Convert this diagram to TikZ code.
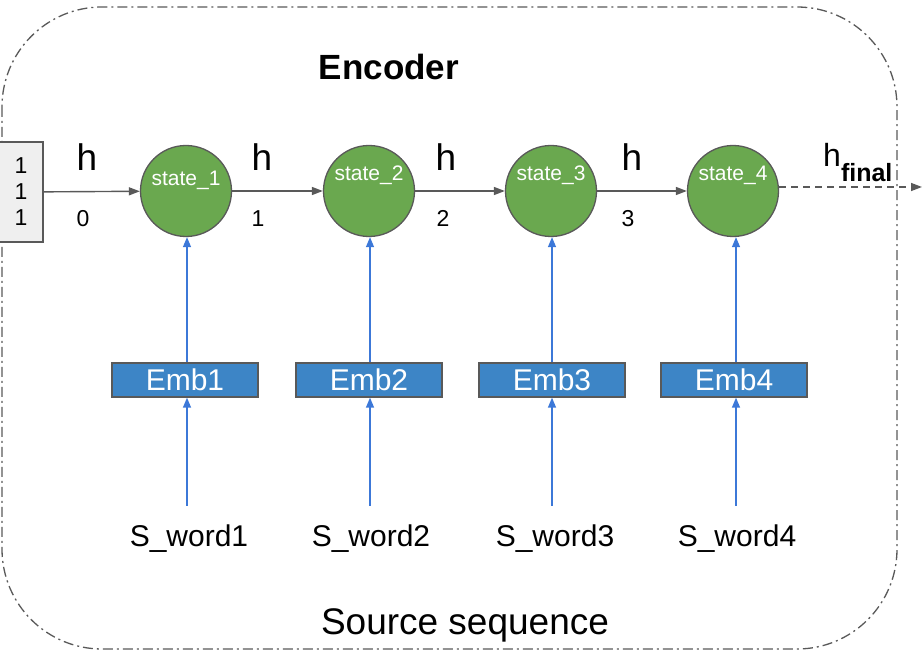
\documentclass[tikz,border=0pt]{standalone}
\usepackage{fontspec}
\setmainfont{Liberation Sans}
\usetikzlibrary{arrows.meta}
\definecolor{stategreen}{HTML}{6AA84F}
\definecolor{edgegray}{HTML}{595959}
\definecolor{embblue}{HTML}{3D85C6}
\definecolor{arrowblue}{HTML}{3C78D8}
\definecolor{initgray}{HTML}{EFEFEF}
\tikzset{
  state/.style={circle, draw=edgegray, line width=1.3pt, fill=stategreen, minimum size=91pt, inner sep=0pt},
  statetext/.style={text=white, font=\fontsize{21}{21}\selectfont, inner sep=0pt},
  emb/.style={draw=edgegray, line width=1.3pt, fill=embblue, minimum width=146pt, minimum height=34pt, inner sep=0pt, text=white, font=\fontsize{30}{30}\selectfont},
  hlabel/.style={anchor=base, inner sep=0pt, font=\fontsize{37}{37}\selectfont},
  hsub/.style={anchor=base, inner sep=0pt, font=\fontsize{23}{23}\selectfont},
  word/.style={anchor=base, inner sep=0pt, font=\fontsize{30}{30}\selectfont},
  harrow/.style={draw=edgegray, line width=1.4pt, -{Triangle[length=11pt,width=8pt]}},
  varrow/.style={draw=arrowblue, line width=1.3pt, -{Triangle[length=10pt,width=8pt]}}
}
\begin{document}
\begin{tikzpicture}[x=1pt,y=-1pt]
\useasboundingbox (0,0) rectangle (922,652);
% outer frame
\draw[edgegray, line width=1.3pt, rounded corners=100pt, dash pattern=on 10pt off 4pt on 2pt off 4pt] (2,7) rectangle (897,649);
\node[anchor=base, inner sep=0pt, font=\fontsize{35}{35}\selectfont\bfseries] (title) at (389,80) {Encoder};
\node[anchor=base, inner sep=0pt, font=\fontsize{37}{37}\selectfont] (source) at (465,634) {Source sequence};

% initial state
\node[draw=edgegray, line width=1.3pt, fill=initgray, minimum width=44pt, minimum height=100pt, inner sep=0pt, align=center, font=\fontsize{23}{26}\selectfont] (init) at (21,192) {1\\1\\1};

% states
\node[state] (s1) at (186,191){};
\node[state] (s2) at (369,191){};
\node[state] (s3) at (551,191){};
\node[state] (s4) at (733,191){};
\node[statetext] (t1) at (186,180) {state\_1};
\node[statetext] (t2) at (369,175) {state\_2};
\node[statetext] (t3) at (551,175) {state\_3};
\node[statetext] (t4) at (733,175) {state\_4};

\draw[harrow] (init) -- (s1);
\draw[harrow] (s1) -- (s2);
\draw[harrow] (s2) -- (s3);
\draw[harrow] (s3) -- (s4);
\coordinate (out) at (922,187);
\draw[harrow, dash pattern=on 7pt off 5pt] (s4.east |- out) -- (out);

% hidden labels
\node[hlabel] (h0) at (87,171) {h};
\node[hlabel] (h1) at (262,171) {h};
\node[hlabel] (h2) at (446,171) {h};
\node[hlabel] (h3) at (632,171) {h};
\node[hsub] (n0) at (83,227) {0};
\node[hsub] (n1) at (258,227) {1};
\node[hsub] (n2) at (443,227) {2};
\node[hsub] (n3) at (628,227) {3};
\node[anchor=base west, inner sep=0pt, font=\fontsize{32}{32}\selectfont] (hf) at (823,167) {h\raisebox{-15pt}{\fontsize{25}{25}\selectfont\bfseries final}};

% embeddings
\node[emb] (e1) at (185,380) {Emb1};
\node[emb] (e2) at (369,380) {Emb2};
\node[emb] (e3) at (552,380) {Emb3};
\node[emb] (e4) at (734,380) {Emb4};

% source words
\node[word] (w1) at (189,547) {S\_word1};
\node[word] (w2) at (371,547) {S\_word2};
\node[word] (w3) at (555,547) {S\_word3};
\node[word] (w4) at (737,547) {S\_word4};
\coordinate (b1) at (187,506);
\coordinate (b2) at (370,506);
\coordinate (b3) at (552,506);
\coordinate (b4) at (736,506);

\draw[varrow] (b1) -- (b1 |- e1.south);
\draw[varrow] (b2) -- (b2 |- e2.south);
\draw[varrow] (b3) -- (b3 |- e3.south);
\draw[varrow] (b4) -- (b4 |- e4.south);
\draw[varrow] (b1 |- e1.north) -- (b1 |- s1.south);
\draw[varrow] (b2 |- e2.north) -- (b2 |- s2.south);
\draw[varrow] (b3 |- e3.north) -- (b3 |- s3.south);
\draw[varrow] (b4 |- e4.north) -- (b4 |- s4.south);

\end{tikzpicture}
\end{document}
